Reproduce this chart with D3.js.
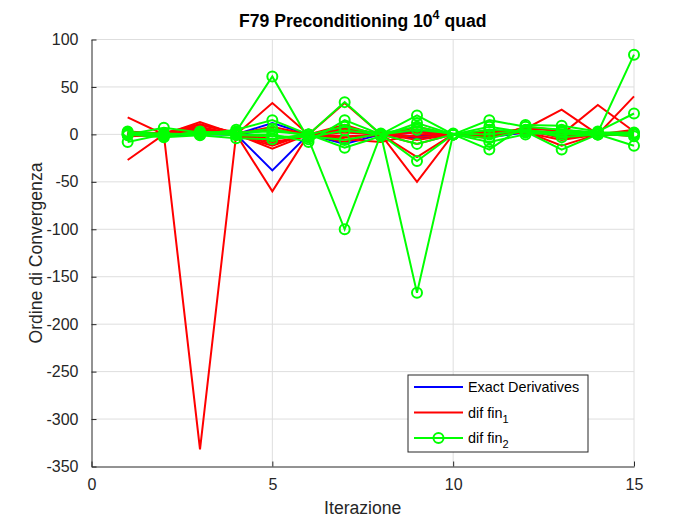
<!DOCTYPE html>
<html>
<head>
<meta charset="utf-8">
<script src="https://cdn.jsdelivr.net/npm/d3@7"></script>
<style>
  body { margin: 0; background: #fff; }
  svg { font-family: "Liberation Sans", Arial, sans-serif; }
</style>
</head>
<body>
<svg id="chart"></svg>
<script>
const iterations = [1, 2, 3, 4, 5, 6, 7, 8, 9, 10, 11, 12, 13, 14, 15]

// Exact Derivatives runs
const exact1 = [0, 0, 2, 0, 12, 0, 7, 0, 3, 0, 2, 3, 1, 0, 1]
const exact2 = [1, -1, 0, 0, -38, 0, -10, 0, -2, 0, -3, 2, 0, 1, 0]
const exact3 = [0, 0, 1, 0, 5, 0, 3, 0, -4, 0, 1, 4, -1, 0, 0]

// dif fin_1 runs
const fin1a = [18, 0, 5, 0, 33, 0, 5, 0, -50, 0, 2, 5, 0, 31, 3]
const fin1b = [-27, 0, 13, 0, -60, 0, 33, 0, -24, 0, -3, 6, 26, 0, 40]
const fin1c = [2, 0, -332, 0, -10, 0, -5, -8, 0, 0, 1, 3, -12, 0, 0]
const fin1d = [0, 2, 8, 0, -15, 0, 2, 0, 5, 0, -4, 8, 4, 0, 2]
const fin1e = [3, 1, 10, 2, 5, 0, -8, 2, -3, 0, 3, 4, -2, 1, -2]
const fin1f = [-2, -1, 4, 1, -5, 0, 10, -2, 8, 0, -2, 7, 3, 0, 5]
const fin1g = [1, 0, 6, 0, 8, 0, -3, 0, -10, 0, 0, 2, -6, 0, 1]
const fin1h = [2, 1, 11, 1, -8, -2, 6, 1, -6, 0, 2, 5, -4, 0, 3]
const fin1i = [-1, 2, 7, -1, -12, 1, -2, -1, 2, 0, -1, 6, 5, 1, -1]

// dif fin_2 runs
const fin2a = [0, 7, 2, 3, 61, -5, -100, 0, 20, 0, 15, 8, 5, 2, 84]
const fin2b = [-8, 0, 0, 5, 15, 0, 34, 0, -167, 0, -16, 10, 9, 3, 22]
const fin2c = [3, -2, 3, 0, 0, -8, 15, 0, -28, 0, 5, 3, -16, 0, -12]
const fin2d = [0, -3, -1, -4, -5, 0, -14, -2, 12, 0, -8, 0, 3, 2, 2]
const fin2e = [2, 1, 0, 2, 3, 0, 8, 0, 5, 1, 0, 5, -3, 0, 0]
const fin2f = [-1, 0, 1, -1, -2, -3, 4, 0, -10, 0, 8, 2, 0, 1, -2]
const fin2g = [1, -1, 2, 1, 6, -2, -6, 1, 8, 0, -4, 4, 2, 0, 1]

const xTicks = [0, 5, 10, 15]
const yTicks = [-350, -300, -250, -200, -150, -100, -50, 0, 50, 100]

const groups = [
  { name: "Exact Derivatives", sub: null, colour: "#0000ff", marker: false, runs: [exact1, exact2, exact3] },
  { name: "dif fin", sub: "1", colour: "#ff0000", marker: false, runs: [fin1a, fin1b, fin1c, fin1d, fin1e, fin1f, fin1g, fin1h, fin1i] },
  { name: "dif fin", sub: "2", colour: "#00ff00", marker: true, runs: [fin2a, fin2b, fin2c, fin2d, fin2e, fin2f, fin2g] }
]

const width = 700
const height = 525
const margin = { top: 39.5, right: 66, bottom: 58.5, left: 91.5 }
const axisColour = "#262626"
const gridColour = "#dedede"

const svg = d3.select("#chart").attr("width", width).attr("height", height)

/// Scales ///
const xScale = d3.scaleLinear().domain([0, 15]).range([margin.left, width - margin.right])
const yScale = d3.scaleLinear().domain([-350, 100]).range([height - margin.bottom, margin.top])

/// Grid ///
const grid = svg.append("g")
grid.selectAll(".gx").data(xTicks.filter(d => d > 0)).join("line")
  .attr("x1", d => xScale(d)).attr("x2", d => xScale(d))
  .attr("y1", yScale(-350)).attr("y2", yScale(100))
  .attr("stroke", gridColour).attr("stroke-width", 1)
grid.selectAll(".gy").data(yTicks.filter(d => d > -350)).join("line")
  .attr("x1", xScale(0)).attr("x2", xScale(15))
  .attr("y1", d => yScale(d)).attr("y2", d => yScale(d))
  .attr("stroke", gridColour).attr("stroke-width", 1)

/// Lines ///
const line = d3.line()
  .x((d, i) => xScale(iterations[i]))
  .y(d => yScale(d))

const plot = svg.append("g")
groups.forEach(g => {
  g.runs.forEach(run => {
    plot.append("path")
      .datum(run)
      .attr("d", line)
      .attr("fill", "none")
      .attr("stroke", g.colour)
      .attr("stroke-width", 2)
      .attr("stroke-linejoin", "miter")
    if (g.marker) {
      plot.append("g").selectAll("circle").data(run).join("circle")
        .attr("cx", (d, i) => xScale(iterations[i]))
        .attr("cy", d => yScale(d))
        .attr("r", 5)
        .attr("fill", "none")
        .attr("stroke", g.colour)
        .attr("stroke-width", 2)
    }
  })
})

/// Axes ///
const xAxis = svg.append("g")
  .attr("transform", `translate(0,${yScale(-350)})`)
  .call(d3.axisBottom(xScale).tickValues(xTicks).tickFormat(d => String(d))
    .tickSizeInner(-5).tickSizeOuter(0).tickPadding(12))
const yAxis = svg.append("g")
  .attr("transform", `translate(${xScale(0)},0)`)
  .call(d3.axisLeft(yScale).tickValues(yTicks).tickFormat(d => String(d))
    .tickSizeInner(-5).tickSizeOuter(0).tickPadding(13))

;[xAxis, yAxis].forEach(a => {
  a.select(".domain").attr("stroke", axisColour).attr("stroke-width", 1)
  a.selectAll(".tick line").attr("stroke", axisColour)
  a.selectAll(".tick text").attr("fill", axisColour).attr("font-size", 16)
    .attr("font-family", "Liberation Sans, Arial, sans-serif")
})

/// Labels ///
svg.append("text")
  .attr("x", (xScale(0) + xScale(15)) / 2).attr("y", 514)
  .attr("text-anchor", "middle").attr("font-size", 17.6).attr("fill", axisColour)
  .text("Iterazione")

svg.append("text")
  .attr("transform", `translate(42,${(yScale(-350) + yScale(100)) / 2}) rotate(-90)`)
  .attr("text-anchor", "middle").attr("font-size", 17.6).attr("fill", axisColour)
  .text("Ordine di Convergenza")

const title = svg.append("text")
  .attr("x", (xScale(0) + xScale(15)) / 2).attr("y", 27)
  .attr("text-anchor", "middle").attr("font-size", 17.6).attr("font-weight", "bold").attr("fill", "#000")
title.append("tspan").text("F79 Preconditioning 10")
title.append("tspan").attr("font-size", 12.5).attr("dy", -8).text("4")
title.append("tspan").attr("dy", 8).text(" quad")

/// Legend ///
const legend = svg.append("g").attr("transform", "translate(408,375)")
legend.append("rect")
  .attr("width", 180).attr("height", 77)
  .attr("fill", "#fff").attr("stroke", axisColour).attr("stroke-width", 1)

groups.forEach((g, i) => {
  const y = 12 + i * 25.5
  const row = legend.append("g").attr("transform", `translate(0,${y})`)
  row.append("line").attr("x1", 6).attr("x2", 55).attr("y1", 0).attr("y2", 0)
    .attr("stroke", g.colour).attr("stroke-width", 2)
  if (g.marker) {
    row.append("circle").attr("cx", 30.5).attr("cy", 0).attr("r", 5)
      .attr("fill", "none").attr("stroke", g.colour).attr("stroke-width", 2)
  }
  const t = row.append("text").attr("x", 60).attr("y", 5).attr("font-size", 14.4).attr("fill", "#000")
  t.append("tspan").text(g.name)
  if (g.sub) t.append("tspan").attr("font-size", 11).attr("dy", 5).text(g.sub)
})
</script>
</body>
</html>
